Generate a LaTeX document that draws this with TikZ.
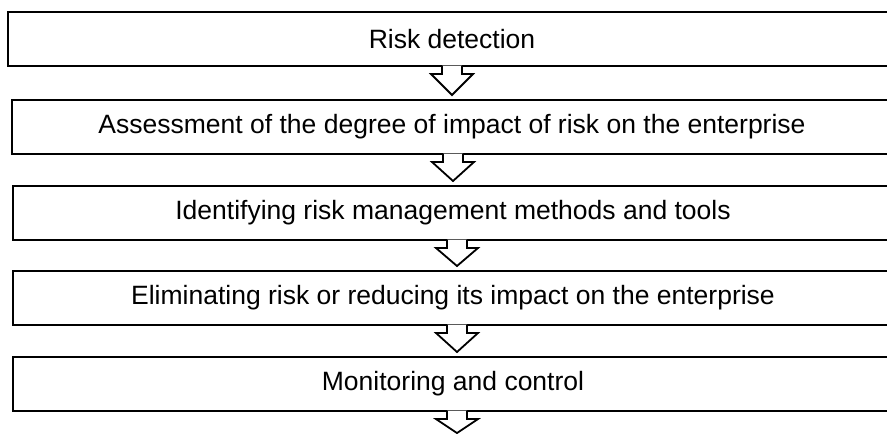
\documentclass[tikz,border=0pt]{standalone}
\usepackage{fontspec}
\setmainfont{Liberation Sans}
\usetikzlibrary{calc}
\begin{document}
\begin{tikzpicture}[x=1pt,y=-1pt,
  box/.style={draw=black, line width=2pt, minimum height=54pt, inner sep=0pt, font=\fontsize{26.5}{31}\selectfont},
  flowarrow/.style={draw=black, fill=white, line width=1.8pt, line join=miter}]
\useasboundingbox (0,0) rectangle (887,434);
\node[box, minimum width=888pt] (b1) at (452,39) {Risk detection};
\node[box, minimum width=880pt] (b2) at (452,127) {Assessment of the degree of impact of risk on the enterprise};
\node[box, minimum width=880pt] (b3) at (453,213) {Identifying risk management methods and tools};
\node[box, minimum width=880pt] (b4) at (453,298) {Eliminating risk or reducing its impact on the enterprise};
\node[box, minimum width=880pt] (b5) at (453,384) {Monitoring and control};
\coordinate (end) at (457,434);
% arrows
\foreach \a/\b/\cx in {b1/b2/452, b2/b3/453, b3/b4/457, b4/b5/457} {
  \draw[flowarrow] let \p1=(\a.south), \p2=(\b.north) in
    (\cx pt-10pt,\y1+1.5pt) -- (\cx pt-10pt,\y1-7pt) -- (\cx pt-21pt,\y1-7pt) -- (\cx pt,\y2+4pt) -- (\cx pt+21pt,\y1-7pt) -- (\cx pt+10pt,\y1-7pt) -- (\cx pt+10pt,\y1+1.5pt);
}
\draw[flowarrow] let \p1=(b5.south), \p2=(end) in
  (447pt,\y1+1.5pt) -- (447pt,\y1-7pt) -- (436pt,\y1-7pt) -- (457pt,\y2+1pt) -- (478pt,\y1-7pt) -- (467pt,\y1-7pt) -- (467pt,\y1+1.5pt);
\end{tikzpicture}
\end{document}
